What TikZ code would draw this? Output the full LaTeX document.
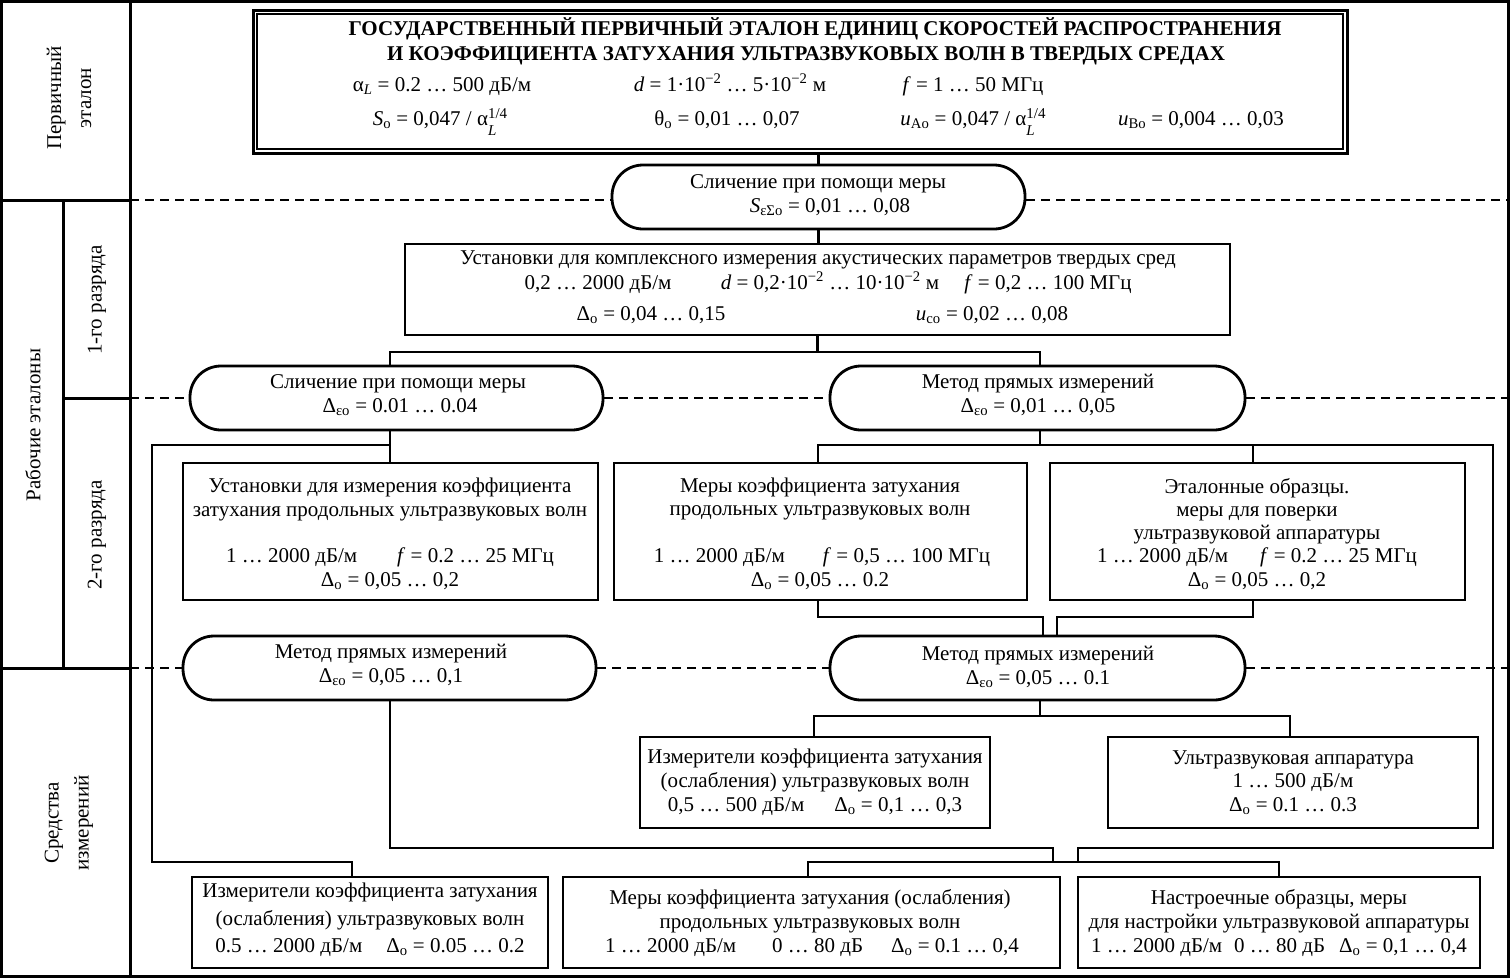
\documentclass[tikz,border=0pt]{standalone}
\usepackage{fontspec}
\setmainfont{Liberation Serif}
\newcommand{\mfs}{\fontsize{21}{24}\selectfont}
\newcommand{\ssub}[2]{\raisebox{-10pt}{\fontsize{15}{13}\selectfont\shortstack[l]{#1\\[4pt]#2}}}
\newcommand{\sbs}[1]{\textsubscript{#1}}
\newcommand{\spp}[1]{\textsuperscript{#1}}
\begin{document}
\begin{tikzpicture}[x=1pt,y=-1pt,
  txt/.style={inner sep=0pt, font=\mfs, text height=14pt, text depth=5pt, anchor=center},
  rottxt/.style={inner sep=0pt, font=\mfs, rotate=90, align=center, anchor=center},
  stdbox/.style={draw, line width=2.8pt, inner sep=0pt, minimum width=#1},
  ovalbox/.style={draw, line width=2.8pt, inner sep=0pt, minimum width=#1, minimum height=64pt, rounded corners=31pt},
  conn/.style={line width=2.6pt},
  sep/.style={line width=1.6pt, dash pattern=on 9pt off 6pt},
  grid/.style={line width=3pt}]
\useasboundingbox (0,0) rectangle (1510,978);
% outer frame and left column
\draw[grid] (1.5,1.5) rectangle (1508.5,976.5);
\coordinate (g1) at (130,0);
\coordinate (g2) at (130,978);
\draw[grid] (g1) -- (g2);
\coordinate (g3) at (0,200);
\coordinate (g4) at (130,200);
\coordinate (g5) at (0,668);
\coordinate (g6) at (130,668);
\coordinate (g7) at (63,200);
\coordinate (g8) at (63,668);
\coordinate (g9) at (63,398);
\coordinate (g10) at (130,398);
\draw[grid] (g3) -- (g4);
\draw[grid] (g5) -- (g6);
\draw[grid] (g7) -- (g8);
\draw[grid] (g9) -- (g10);
\node[rottxt] (lab1) at (69,98) {Первичный\\[6pt]эталон};
\node[rottxt] (lab2) at (33,425) {Рабочие эталоны};
\node[rottxt] (lab3) at (97,300) {1-го разряда};
\node[rottxt] (lab4) at (97,535) {2-го разряда};
\node[rottxt] (lab5) at (69,823) {Средства\\[6pt]измерений};

% top box
\node[stdbox=1094pt, minimum height=143pt, line width=3pt] (top) at (800,81.5) {};
\node[stdbox=1086pt, minimum height=135pt, line width=2pt] (topin) at (800,81.5) {};
\node[txt, font=\mfs\bfseries] (t1) at (815,31) {ГОСУДАРСТВЕННЫЙ ПЕРВИЧНЫЙ ЭТАЛОН ЕДИНИЦ СКОРОСТЕЙ РАСПРОСТРАНЕНИЯ};
\node[txt, font=\mfs\bfseries] (t2) at (806,56) {И КОЭФФИЦИЕНТА ЗАТУХАНИЯ УЛЬТРАЗВУКОВЫХ ВОЛН В ТВЕРДЫХ СРЕДАХ};
\node[txt] (t3) at (442,87) {α\sbs{\textit{L}} = 0.2 … 500 дБ/м};
\node[txt] (t4) at (730,87) {\textit{d} = 1·10\spp{−2} … 5·10\spp{−2} м};
\node[txt] (t5) at (973,87) {\textit{f} = 1 … 50 МГц};
\node[txt] (t6) at (440,121) {\textit{S}\sbs{о} = 0,047 / α\ssub{1/4}{\textit{L}}};
\node[txt] (t7) at (727,121) {θ\sbs{о} = 0,01 … 0,07};
\node[txt] (t8) at (973,121) {\textit{u}\sbs{Aо} = 0,047 / α\ssub{1/4}{\textit{L}}};
\node[txt] (t9) at (1201,121) {\textit{u}\sbs{Bо} = 0,004 … 0,03};

% ovals
\node[ovalbox=413pt] (ov1) at (818.5,197) {};
\node[txt] at (818,184) {Сличение при помощи меры};
\node[txt] at (830,208) {\textit{S}\sbs{εΣо} = 0,01 … 0,08};
\node[ovalbox=413pt] (ov2) at (396.5,398) {};
\node[txt] at (398,384) {Сличение при помощи меры};
\node[txt] at (400,408) {Δ\sbs{εо} = 0.01 … 0.04};
\node[ovalbox=415pt] (ov3) at (1037.5,398) {};
\node[txt] at (1038,384) {Метод прямых измерений};
\node[txt] at (1038,408) {Δ\sbs{εо} = 0,01 … 0,05};
\node[ovalbox=413pt] (ov4) at (389.5,668) {};
\node[txt] at (391,654) {Метод прямых измерений};
\node[txt] at (391,678) {Δ\sbs{εо} = 0,05 … 0,1};
\node[ovalbox=415pt] (ov5) at (1037.5,668) {};
\node[txt] at (1038,656) {Метод прямых измерений};
\node[txt] at (1038,680) {Δ\sbs{εо} = 0,05 … 0.1};

% rectangles
\node[stdbox=825pt, minimum height=91pt] (r1) at (817.5,289.5) {};
\node[txt] at (818,260) {Установки для комплексного измерения акустических параметров твердых сред};
\node[txt] at (598,285) {0,2 … 2000 дБ/м};
\node[txt] at (830,285) {\textit{d} = 0,2·10\spp{−2} … 10·10\spp{−2} м};
\node[txt] at (1048,285) {\textit{f} = 0,2 … 100 МГц};
\node[txt] at (651,316) {Δ\sbs{о} = 0,04 … 0,15};
\node[txt] at (992,316) {\textit{u}\sbs{со} = 0,02 … 0,08};

\node[stdbox=415pt, minimum height=137pt] (r2) at (390.5,531.5) {};
\node[txt] at (390,488) {Установки для измерения коэффициента};
\node[txt] at (390,512) {затухания продольных ультразвуковых волн};
\node[txt] at (390,558) {1 … 2000 дБ/м\hspace{40pt}\textit{f} = 0.2 … 25 МГц};
\node[txt] at (390,582) {Δ\sbs{о} = 0,05 … 0,2};

\node[stdbox=413pt, minimum height=137pt] (r3) at (820.5,531.5) {};
\node[txt] at (820,488) {Меры коэффициента затухания};
\node[txt] at (820,511) {продольных ультразвуковых волн};
\node[txt] at (822,558) {1 … 2000 дБ/м\hspace{38pt}\textit{f} = 0,5 … 100 МГц};
\node[txt] at (820,582) {Δ\sbs{о} = 0,05 … 0.2};

\node[stdbox=415pt, minimum height=137pt] (r4) at (1257.5,531.5) {};
\node[txt] at (1257,489) {Эталонные образцы.};
\node[txt] at (1257,512) {меры для поверки};
\node[txt] at (1257,535) {ультразвуковой аппаратуры};
\node[txt] at (1257,558) {1 … 2000 дБ/м\hspace{32pt}\textit{f} = 0.2 … 25 МГц};
\node[txt] at (1257,582) {Δ\sbs{о} = 0,05 … 0,2};

\node[stdbox=350pt, minimum height=91pt] (r5) at (815,782.5) {};
\node[txt] at (815,759) {Измерители коэффициента затухания};
\node[txt] at (815,783) {(ослабления) ультразвуковых волн};
\node[txt] at (815,807) {0,5 … 500 дБ/м\hspace{30pt}Δ\sbs{о} = 0,1 … 0,3};

\node[stdbox=370pt, minimum height=91pt] (r6) at (1293,782.5) {};
\node[txt] at (1293,760) {Ультразвуковая аппаратура};
\node[txt] at (1293,783) {1 … 500 дБ/м};
\node[txt] at (1293,807) {Δ\sbs{о} = 0.1 … 0.3};

\node[stdbox=356pt, minimum height=91pt] (r7) at (370,922.5) {};
\node[txt] at (370,893) {Измерители коэффициента затухания};
\node[txt] at (370,921) {(ослабления) ультразвуковых волн};
\node[txt] at (370,948) {0.5 … 2000 дБ/м\hspace{24pt}Δ\sbs{о} = 0.05 … 0.2};

\node[stdbox=497pt, minimum height=91pt] (r8) at (811.5,922.5) {};
\node[txt] at (810,900) {Меры коэффициента затухания (ослабления)};
\node[txt] at (810,924) {продольных ультразвуковых волн};
\node[txt] at (812,948) {1 … 2000 дБ/м\hspace{36pt}0 … 80 дБ\hspace{28pt}Δ\sbs{о} = 0.1 … 0,4};

\node[stdbox=402pt, minimum height=91pt] (r9) at (1279,922.5) {};
\node[txt] at (1279,900) {Настроечные образцы, меры};
\node[txt] at (1279,924) {для настройки ультразвуковой аппаратуры};
\node[txt] at (1279,948) {1 … 2000 дБ/м\hspace{12pt}0 … 80 дБ\hspace{14pt}Δ\sbs{о} = 0,1 … 0,4};

% dashed level separators
\coordinate (d1) at (130,200);
\coordinate (d2) at (1508,200);
\coordinate (d3) at (130,398);
\coordinate (d4) at (1508,398);
\coordinate (d5) at (130,668);
\coordinate (d6) at (1508,668);
\draw[sep] (d1) -- (ov1.west |- d1);
\draw[sep] (ov1.east |- d2) -- (d2);
\draw[sep] (d3) -- (ov2.west);
\draw[sep] (ov2.east) -- (ov3.west);
\draw[sep] (ov3.east) -- (d4);
\draw[sep] (d5) -- (ov4.west);
\draw[sep] (ov4.east) -- (ov5.west);
\draw[sep] (ov5.east) -- (d6);

% connectors
\draw[conn] (ov1.north |- top.south) -- (ov1.north);
\draw[conn] (ov1.south) -- (ov1.south |- r1.north);
\coordinate (j1) at (390,352);
\coordinate (j2) at (1040,352);
\draw[conn] (r1.south) -- (r1.south |- j1);
\draw[conn] (ov2.north -| j1) -- (j1) -- (j2) -- (ov3.north -| j2);

\coordinate (j3) at (390,445);
\coordinate (j4) at (152,445);
\coordinate (j5) at (152,862);
\coordinate (j6) at (352,862);
\draw[conn] (ov2.south -| j3) -- (r2.north -| j3);
\draw[conn] (j3) -- (j4) -- (j5) -- (j6) -- (r7.north -| j6);

\coordinate (j7) at (1040,445);
\coordinate (j8) at (818,445);
\coordinate (j9) at (1493,445);
\coordinate (j10) at (1253,445);
\coordinate (j11) at (1493,848);
\coordinate (j12) at (1078,848);
\coordinate (j13) at (1078,862);
\draw[conn] (ov3.south -| j7) -- (j7);
\draw[conn] (r3.north -| j8) -- (j8) -- (j9) -- (j11) -- (j12) -- (j13);
\draw[conn] (j10) -- (r4.north -| j10);

\coordinate (k1) at (818,617);
\coordinate (k2) at (1043,617);
\coordinate (k3) at (1253,617);
\coordinate (k4) at (1057,617);
\draw[conn] (r3.south -| k1) -- (k1) -- (k2) -- (ov5.north -| k2);
\draw[conn] (r4.south -| k3) -- (k3) -- (k4) -- (ov5.north -| k4);

\coordinate (k5) at (1040,716);
\coordinate (k6) at (814,716);
\coordinate (k7) at (1290,716);
\draw[conn] (ov5.south -| k5) -- (k5);
\draw[conn] (r5.north -| k6) -- (k6) -- (k7) -- (r6.north -| k7);

\coordinate (m1) at (390,848);
\coordinate (m2) at (1053,848);
\coordinate (m3) at (1053,862);
\draw[conn] (ov4.south -| m1) -- (m1) -- (m2) -- (m3);
\coordinate (n1) at (808,862);
\coordinate (n2) at (1279,862);
\draw[conn] (r8.north -| n1) -- (n1) -- (n2) -- (r9.north -| n2);
\end{tikzpicture}
\end{document}
